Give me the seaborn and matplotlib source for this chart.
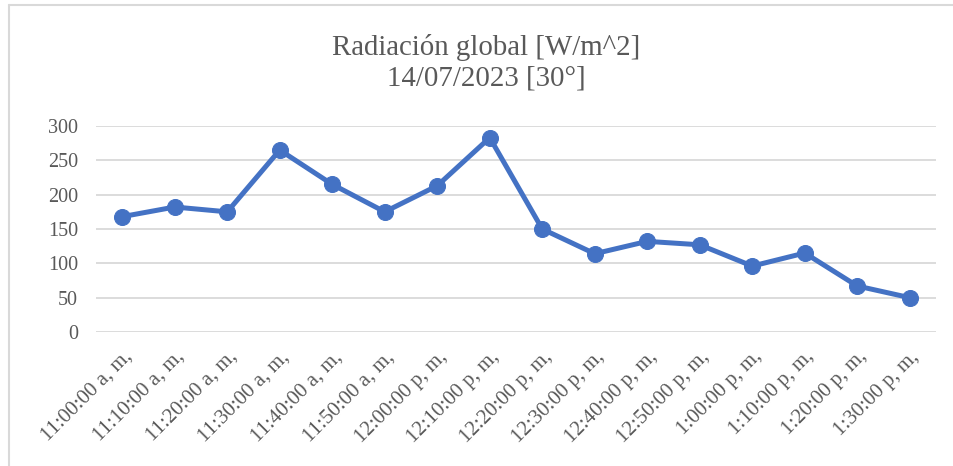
import matplotlib
matplotlib.use("Agg")
import matplotlib.pyplot as plt
import seaborn as sns
import pandas as pd
from matplotlib.lines import Line2D

# Time stamps of each measurement (category labels)
horas = [
    "11:00:00 a, m,", "11:10:00 a, m,", "11:20:00 a, m,", "11:30:00 a, m,",
    "11:40:00 a, m,", "11:50:00 a, m,", "12:00:00 p, m,", "12:10:00 p, m,",
    "12:20:00 p, m,", "12:30:00 p, m,", "12:40:00 p, m,", "12:50:00 p, m,",
    "1:00:00 p, m,", "1:10:00 p, m,", "1:20:00 p, m,", "1:30:00 p, m,",
]
# Global radiation readings [W/m^2]
radiacion = [168, 182, 175, 265, 215, 175, 213, 283,
             150, 114, 132, 127, 96, 115, 67, 50]
y_ticks = [0, 50, 100, 150, 200, 250, 300]

titulo = "Radiación global [W/m^2]\n14/07/2023 [30°]"

sns.set_theme(style="white")
plt.rcParams["font.family"] = ["Liberation Serif", "DejaVu Serif"]

texto = "#595959"
rejilla = "#D9D9D9"
azul = "#4472C4"

df = pd.DataFrame({"hora": horas, "radiacion": radiacion})
df["pos"] = range(len(df))

fig = plt.figure(figsize=(9.54, 4.66), dpi=100)
ax = fig.add_axes([96 / 954, 1 - 332 / 466, (936 - 96) / 954, (332 - 126) / 466])

sns.lineplot(data=df, x="pos", y="radiacion", ax=ax, color=azul,
             linewidth=3.6, marker="o", markersize=11.5,
             markeredgecolor=azul, markerfacecolor=azul, zorder=3)

ax.set_xlim(-0.5, len(horas) - 0.5)
ax.set_ylim(0, 300)
ax.set_yticks(y_ticks)
ax.set_yticklabels([str(v) for v in y_ticks], fontsize=14.5, color=texto)
ax.set_xticks(df["pos"])
ax.set_xticklabels(horas, rotation=45, ha="right", va="top",
                   rotation_mode="anchor", fontsize=15, color=texto)
ax.tick_params(axis="y", length=0, pad=13)
ax.tick_params(axis="x", length=0, pad=11)

ax.yaxis.grid(True, color=rejilla, linewidth=1.3)
ax.xaxis.grid(False)
for s in ax.spines.values():
    s.set_visible(False)
ax.set_xlabel("")
ax.set_ylabel("")

fig.text(486 / 954, 1 - 63 / 466, titulo, ha="center", va="center",
         fontsize=20.8, color=texto, linespacing=1.22)

# Chart-area frame
fig.add_artist(Line2D([9 / 954, 9 / 954], [0, 1 - 5 / 466],
                      transform=fig.transFigure, color=rejilla, linewidth=1.5))
fig.add_artist(Line2D([9 / 954, 1], [1 - 5 / 466, 1 - 5 / 466],
                      transform=fig.transFigure, color=rejilla, linewidth=1.5))

fig.savefig("out.png", dpi=100, facecolor="white")
